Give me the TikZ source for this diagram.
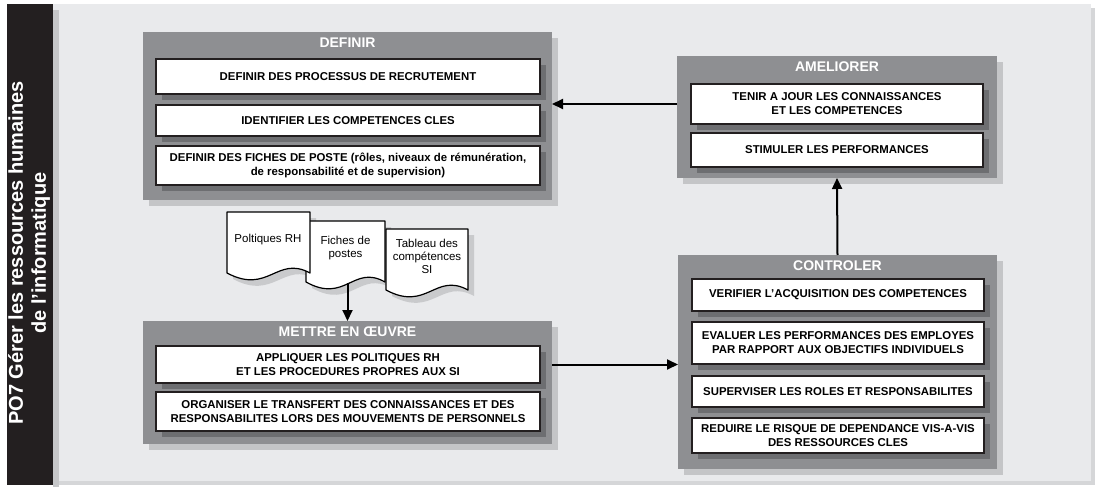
\documentclass[tikz,border=0pt]{standalone}
\usepackage{fontspec}
\setmainfont{Liberation Sans}
\usetikzlibrary{arrows.meta,shadows}

\definecolor{panelfill}{HTML}{E9EAEC}
\definecolor{panelshade}{HTML}{D5D6D8}
\definecolor{barfill}{HTML}{231F20}
\definecolor{barshade}{HTML}{C6C7C9}
\definecolor{groupfill}{HTML}{8E8F92}
\definecolor{groupshade}{HTML}{C4C5C7}
\definecolor{itemshade}{HTML}{6D6E71}
\definecolor{itemline}{HTML}{231F20}
\definecolor{papershade}{HTML}{C9CACC}

% document (paper) outline with a wavy bottom edge: x0, y0, width, bottom y
\newcommand\paperpath[4]{(#1,#2) -- ({#1+#3},#2) -- ({#1+#3},#4)
  .. controls ({#1+0.6*#3},{#4-18}) and ({#1+0.5*#3},{#4+22}) .. (#1,#4) -- cycle}

\begin{document}
\begin{tikzpicture}[x=1pt,y=-1pt,
  group/.style={fill=groupfill, draw=none, inner sep=0pt, outer sep=0pt,
    anchor=north west,
    general shadow={fill=groupshade, shadow xshift=6pt, shadow yshift=-6pt}},
  grouptitle/.style={text=white, font=\fontsize{14}{16}\selectfont\bfseries,
    inner sep=0pt},
  item/.style={fill=white, draw=itemline, line width=1.3pt, inner sep=0pt,
    outer sep=0pt, anchor=north west, align=center,
    minimum width=#1,
    font=\fontsize{11.4}{14}\selectfont\bfseries,
    general shadow={fill=itemshade, shadow xshift=6pt, shadow yshift=-6pt}},
  item/.default=384pt,
  paper/.style={fill=white, draw=black, line width=1.2pt, line join=round},
  papertext/.style={align=center, inner sep=0pt,
    font=\fontsize{11.5}{13}\selectfont},
  conn/.style={draw=black, line width=2pt,
    -{Triangle[length=11pt,width=10pt]}}
]
\useasboundingbox (0,0) rectangle (1101,487);

% background panel and side band
\fill[panelshade] (57,8) rectangle (1095,485);
\fill[panelfill] (53,4) rectangle (1091,481);
\fill[barshade] (53,10) rectangle (59,487);
\fill[barfill] (7,4) rectangle (53,485);
\node[rotate=90, text=white, align=center, inner sep=0pt,
  font=\fontsize{20}{23}\selectfont\bfseries] (band) at (29,253)
  {PO7 Gérer les ressources humaines\\de l'informatique};

% DEFINIR
\node[group, minimum width=409pt, minimum height=168pt] (definir) at (143,32) {};
\node[grouptitle] (definirT) at (347.5,43) {DEFINIR};
\node[item, minimum height=35pt] (d1) at (156,59) {DEFINIR DES PROCESSUS DE RECRUTEMENT};
\node[item, minimum height=31pt] (d2) at (156,105) {IDENTIFIER LES COMPETENCES CLES};
\node[item, minimum height=39pt] (d3) at (156,146)
  {DEFINIR DES FICHES DE POSTE (rôles, niveaux de rémunération,\\de responsabilité et de supervision)};

% AMELIORER
\node[group, minimum width=320pt, minimum height=122pt] (ameliorer) at (677,56) {};
\node[grouptitle] (ameliorerT) at (837,67) {AMELIORER};
\node[item=292pt, minimum height=40pt] (a1) at (691,84)
  {TENIR A JOUR LES CONNAISSANCES\\ET LES COMPETENCES};
\node[item=292pt, minimum height=34pt] (a2) at (691,133) {STIMULER LES PERFORMANCES};

% CONTROLER
\node[group, minimum width=319pt, minimum height=214pt] (controler) at (678,255) {};
\node[grouptitle] (controlerT) at (837.5,266) {CONTROLER};
\node[item=292pt, minimum height=32pt] (c1) at (692,279) {VERIFIER L’ACQUISITION DES COMPETENCES};
\node[item=292pt, minimum height=42pt] (c2) at (692,322)
  {EVALUER LES PERFORMANCES DES EMPLOYES\\PAR RAPPORT AUX OBJECTIFS INDIVIDUELS};
\node[item=292pt, minimum height=31pt] (c3) at (692,376) {SUPERVISER LES ROLES ET RESPONSABILITES};
\node[item=292pt, minimum height=35pt] (c4) at (692,418)
  {REDUIRE LE RISQUE DE DEPENDANCE VIS-A-VIS\\DES RESSOURCES CLES};

% METTRE EN OEUVRE
\node[group, minimum width=409pt, minimum height=123pt] (mettre) at (143,321) {};
\node[grouptitle] (mettreT) at (347.5,332) {METTRE EN ŒUVRE};
\node[item, minimum height=37pt] (m1) at (156,346)
  {APPLIQUER LES POLITIQUES RH\\ET LES PROCEDURES PROPRES AUX SI};
\node[item, minimum height=39pt] (m2) at (156,392)
  {ORGANISER LE TRANSFERT DES CONNAISSANCES ET DES\\RESPONSABILITES LORS DES MOUVEMENTS DE PERSONNELS};

% supporting documents
\begin{scope}[shift={(6,6)}]
  \fill[papershade] \paperpath{227}{212}{83}{273};
  \fill[papershade] \paperpath{306}{221}{79}{282};
  \fill[papershade] \paperpath{386}{229}{82}{290};
\end{scope}
\draw[paper] \paperpath{386}{229}{82}{290};
\draw[paper] \paperpath{306}{221}{79}{282};
\draw[paper] \paperpath{227}{212}{83}{273};
\node[papertext] (doc1) at (268,240) {Poltiques RH};
\node[papertext] (doc2) at (345.5,248.5) {Fiches de\\postes};
\node[papertext] (doc3) at (427,256.5) {Tableau des\\compétences\\SI};
\coordinate (d2b) at (347.5,283);

% flow between phases
\draw[conn] (a1 -| ameliorer.west) -- (a1 -| definir.east);
\draw[conn] (controler.north) -- (ameliorer.south);
\draw[conn] (m1 -| mettre.east) -- (m1 -| controler.west);
\draw[conn] (mettre.north |- d2b) -- (mettre.north);
\end{tikzpicture}
\end{document}
